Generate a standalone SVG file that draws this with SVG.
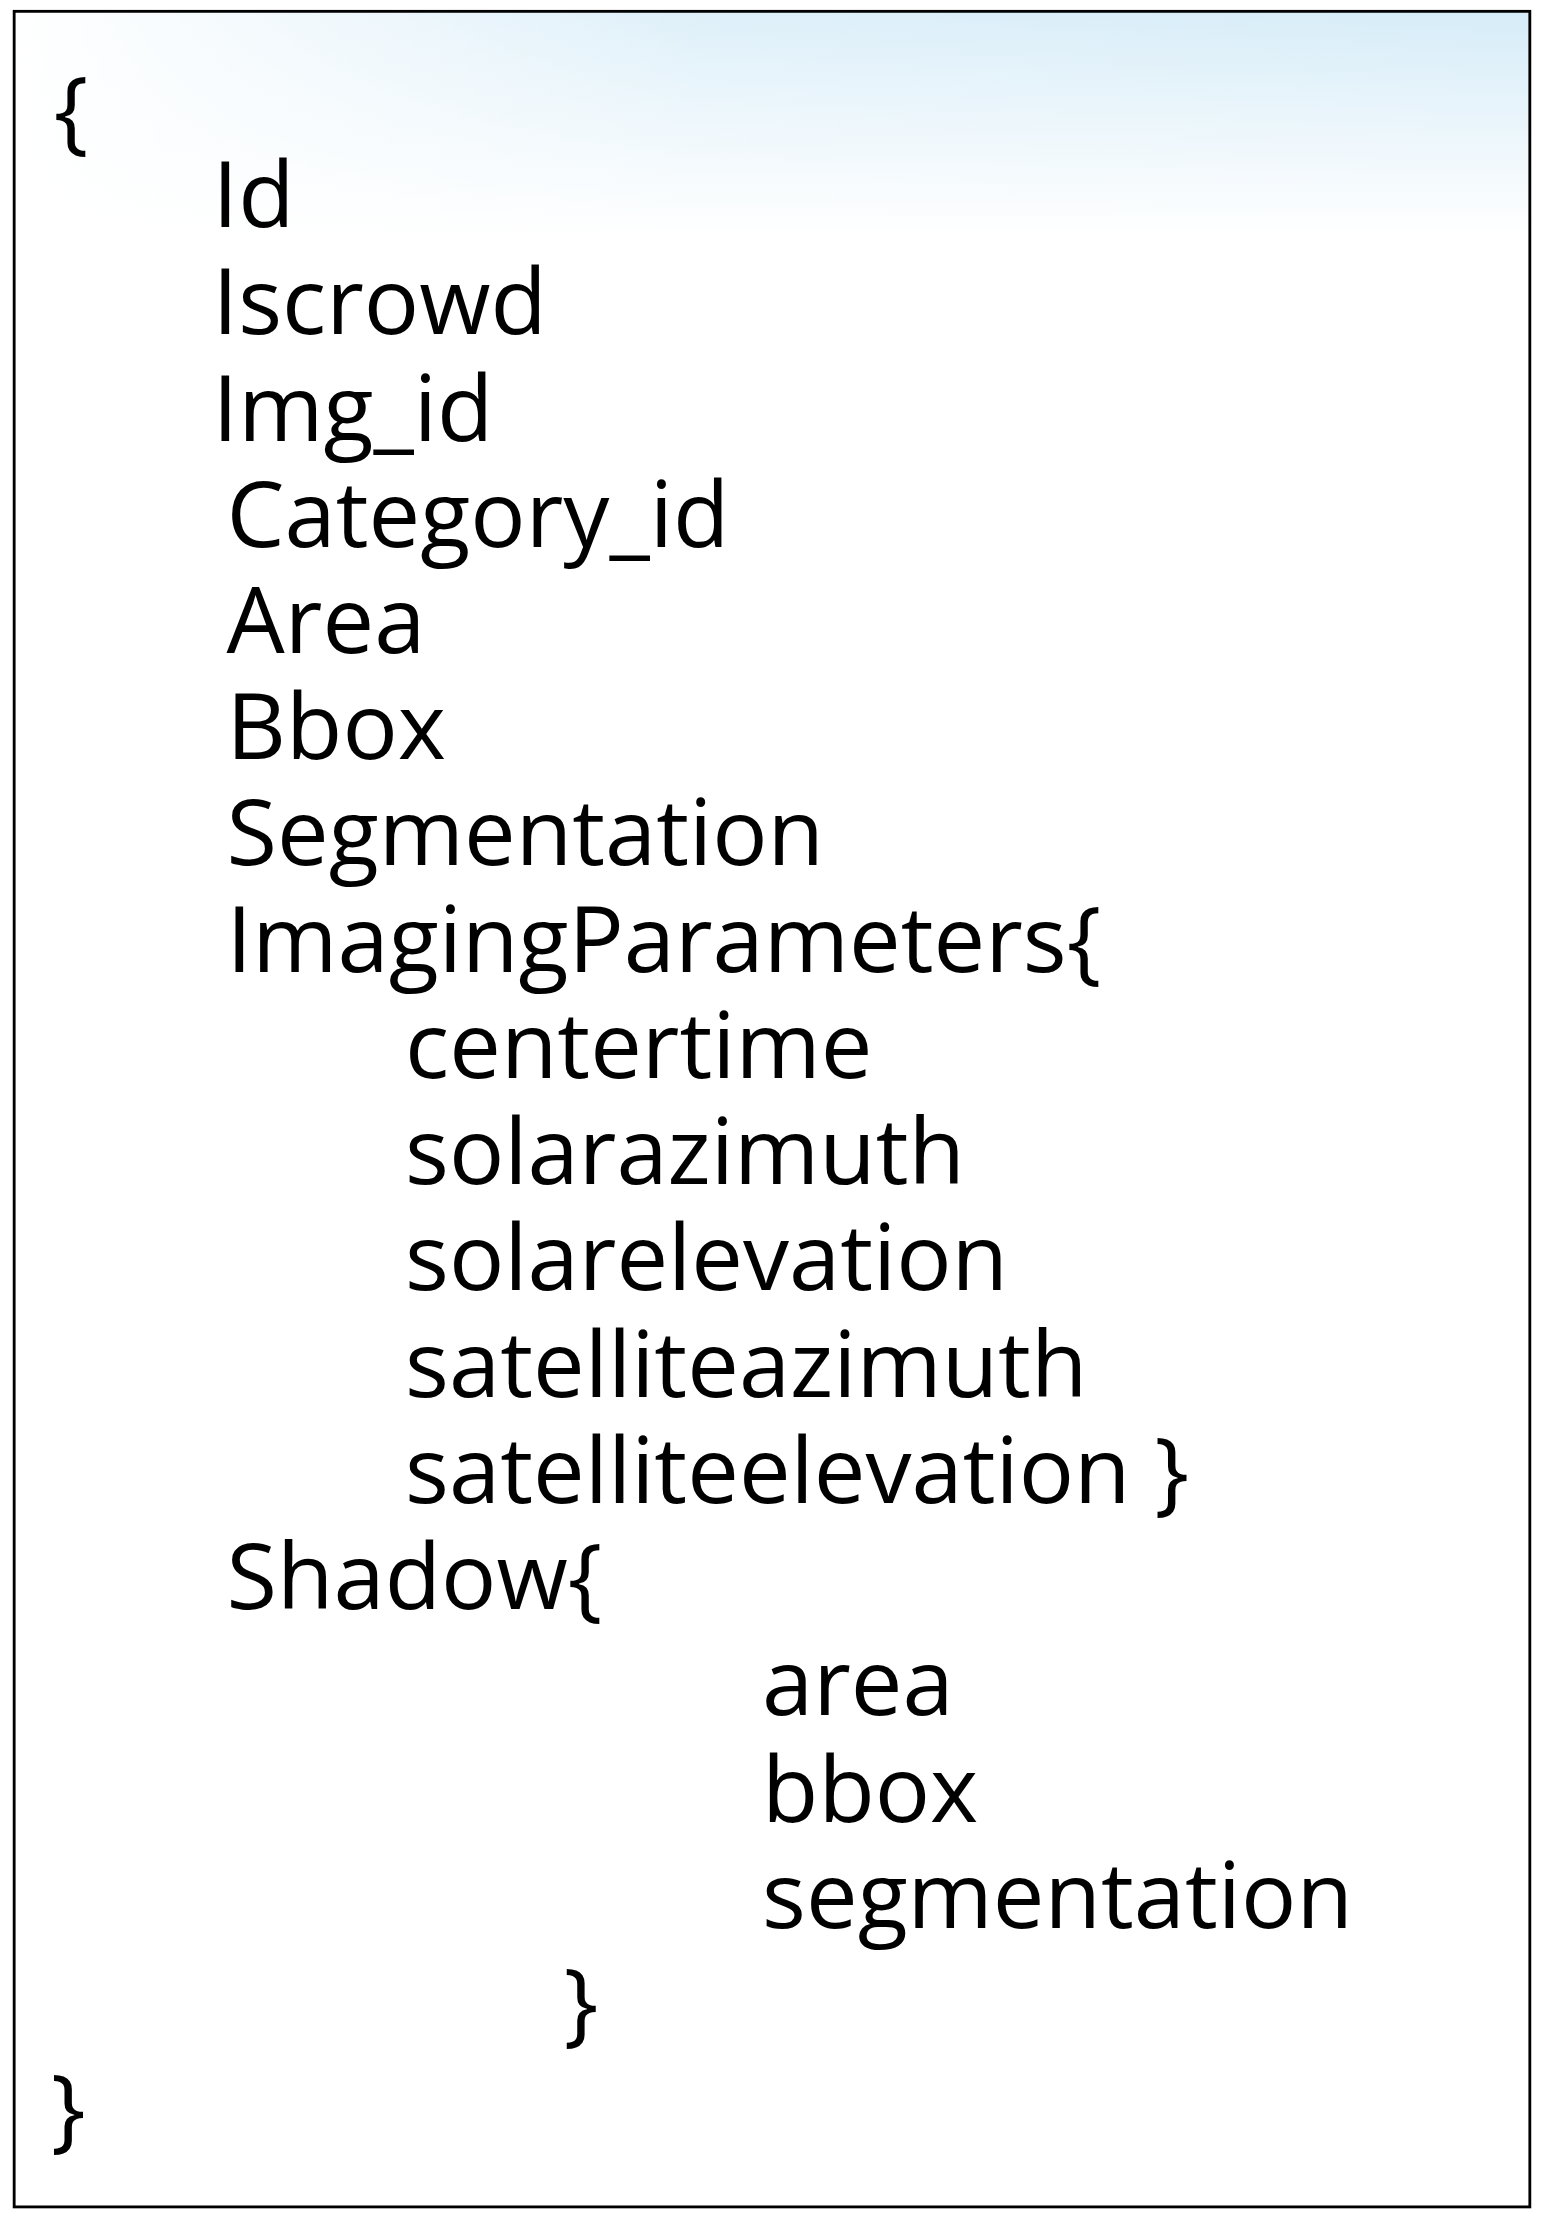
<svg xmlns="http://www.w3.org/2000/svg" width="1544" height="2219" viewBox="0 0 1544 2219">
<defs>
<linearGradient id="bg" x1="0" y1="0" x2="0" y2="1">
<stop offset="0" stop-color="#d6ecf8"/>
<stop offset="1" stop-color="#ffffff"/>
</linearGradient>
<linearGradient id="fade" x1="0" y1="0" x2="1" y2="0">
<stop offset="0" stop-color="#ffffff" stop-opacity="1"/>
<stop offset="0.45" stop-color="#ffffff" stop-opacity="0.2"/>
<stop offset="1" stop-color="#ffffff" stop-opacity="0"/>
</linearGradient>
<style>
text{font-family:"Open Sans","Noto Sans",sans-serif;font-size:65px;fill:#000}
</style>
</defs>
<rect x="0" y="0" width="1544" height="2219" fill="#fff"/>
<g transform="scale(1.4165)">
<rect x="10" y="8" width="1070" height="160" fill="url(#bg)"/>
<rect x="10" y="8" width="1070" height="160" fill="url(#fade)"/>
<rect x="10" y="8" width="1070" height="1550" fill="none" stroke="#000" stroke-width="2"/>
<text x="38" y="100">{</text>
<text x="150" y="160">Id</text>
<text x="150" y="236">Iscrowd</text>
<text x="150" y="311">Img_id</text>
<text x="160" y="386">Category_id</text>
<text x="160" y="461">Area</text>
<text x="160" y="536">Bbox</text>
<text x="160" y="611">Segmentation</text>
<text x="160" y="686">ImagingParameters{</text>
<text x="286" y="761">centertime</text>
<text x="286" y="836">solarazimuth</text>
<text x="286" y="911">solarelevation</text>
<text x="286" y="986">satelliteazimuth</text>
<text x="286" y="1061">satelliteelevation }</text>
<text x="160" y="1136">Shadow{</text>
<text x="538" y="1211">area</text>
<text x="538" y="1286">bbox</text>
<text x="538" y="1361">segmentation</text>
<text x="398" y="1436">}</text>
<text x="36" y="1511">}</text>
</g>
</svg>
